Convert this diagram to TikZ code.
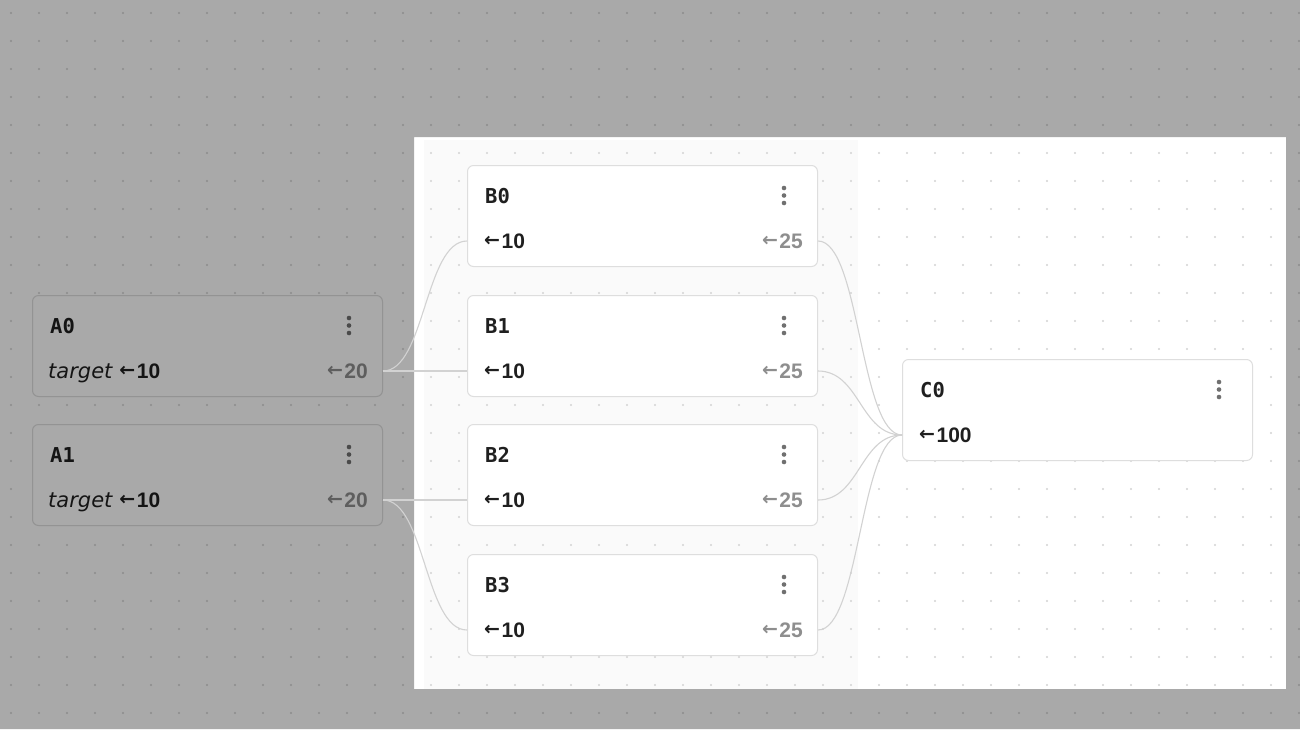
\documentclass[tikz,border=0pt]{standalone}
\usepackage{fontspec}
\setmainfont{Liberation Sans}
\newfontfamily\monof{DejaVu Sans Mono}
\newfontfamily\arrf{DejaVu Sans}
\newfontfamily\oblf{DejaVu Sans}
\definecolor{ink}{HTML}{1F1F1F}
\definecolor{muted}{HTML}{8E8E8E}
\definecolor{cardline}{HTML}{DEDEDE}
\definecolor{wirec}{HTML}{D2D2D2}
\definecolor{kebab}{HTML}{707070}
\definecolor{dotc}{HTML}{D3D3D3}
\definecolor{lightbg}{HTML}{FAFAFA}
\newcommand\larr{\raisebox{1.2pt}{\arrf\fontsize{19}{19}\selectfont ←}\hspace{1.5pt}}
\tikzset{
  cardbox/.style={draw=cardline, fill=white, rounded corners=6pt, line width=1pt,
    minimum width=350pt, minimum height=101pt, anchor=north west, inner sep=0pt},
  ttl/.style={anchor=base west, font=\monof\bfseries\fontsize{20.5}{20.5}\selectfont, text=ink, inner sep=0pt},
  lval/.style={anchor=base west, font=\fontsize{21}{21}\selectfont\bfseries, text=ink, inner sep=0pt},
  rval/.style={anchor=base east, font=\fontsize{21}{21}\selectfont\bfseries, text=muted, inner sep=0pt},
  kdot/.style={circle, fill=kebab, inner sep=0pt, minimum size=4.6pt},
  wire/.style={draw=wirec, line width=1.1pt},
  griddot/.style={fill=dotc}
}
\newcommand\mkcard[7]{% name, x, y, title, left, right, left shift
  \node[cardbox] (#1) at (#2,#3) {};
  \node[ttl] (#1t) at ([xshift=18pt,yshift=-38pt]#1.north west) {#4};
  \node[kdot] (#1ka) at ([xshift=317pt,yshift=-23pt]#1.north west) {};
  \node[kdot] (#1kb) at ([xshift=317pt,yshift=-30.5pt]#1.north west) {};
  \node[kdot] (#1kc) at ([xshift=317pt,yshift=-38pt]#1.north west) {};
  \node[lval] (#1l) at ([xshift=#7,yshift=-83pt]#1.north west) {#5};
  \node[rval] (#1r) at ([xshift=-15pt,yshift=-83pt]#1.north east) {#6};
  \coordinate (#1in) at ([yshift=-76pt]#1.north west);
  \coordinate (#1out) at ([yshift=-76pt]#1.north east);
}
\begin{document}
\begin{tikzpicture}[x=1pt,y=-1pt]
\useasboundingbox (0,0) rectangle (1300,729);
\fill[white] (0,0) rectangle (1300,729);
\fill[lightbg] (424,140) rectangle (858,689);
\foreach \gx in {11,39,...,1300} {
  \foreach \gy in {13,41,...,729} {
    \fill[griddot] (\gx,\gy) circle (1.2pt);
  }
}
\mkcard{A0}{32}{295}{A0}{{\oblf\itshape\mdseries target}\hspace{7pt}\larr 10}{\larr 20}{16pt}
\mkcard{A1}{32}{424}{A1}{{\oblf\itshape\mdseries target}\hspace{7pt}\larr 10}{\larr 20}{16pt}
\mkcard{B0}{467}{165}{B0}{\larr 10}{\larr 25}{17pt}
\mkcard{B1}{467}{295}{B1}{\larr 10}{\larr 25}{17pt}
\mkcard{B2}{467}{424}{B2}{\larr 10}{\larr 25}{17pt}
\mkcard{B3}{467}{554}{B3}{\larr 10}{\larr 25}{17pt}
\mkcard{C0}{902}{359}{C0}{\larr 100}{}{17pt}
% dimming overlay outside the highlighted panel
\fill[black, opacity=0.337, even odd rule] (0,0) rectangle (1300,729) (414,137) rectangle (1286,689);
% connectors
\draw[wire] (A0out) .. controls ([xshift=42pt]A0out) and ([xshift=-42pt]B0in) .. (B0in);
\draw[wire] (A0out) .. controls ([xshift=42pt]A0out) and ([xshift=-42pt]B1in) .. (B1in);
\draw[wire] (A1out) .. controls ([xshift=42pt]A1out) and ([xshift=-42pt]B2in) .. (B2in);
\draw[wire] (A1out) .. controls ([xshift=42pt]A1out) and ([xshift=-42pt]B3in) .. (B3in);
\draw[wire] (B0out) .. controls ([xshift=42pt]B0out) and ([xshift=-42pt]C0in) .. (C0in);
\draw[wire] (B1out) .. controls ([xshift=42pt]B1out) and ([xshift=-42pt]C0in) .. (C0in);
\draw[wire] (B2out) .. controls ([xshift=42pt]B2out) and ([xshift=-42pt]C0in) .. (C0in);
\draw[wire] (B3out) .. controls ([xshift=42pt]B3out) and ([xshift=-42pt]C0in) .. (C0in);
\end{tikzpicture}
\end{document}
